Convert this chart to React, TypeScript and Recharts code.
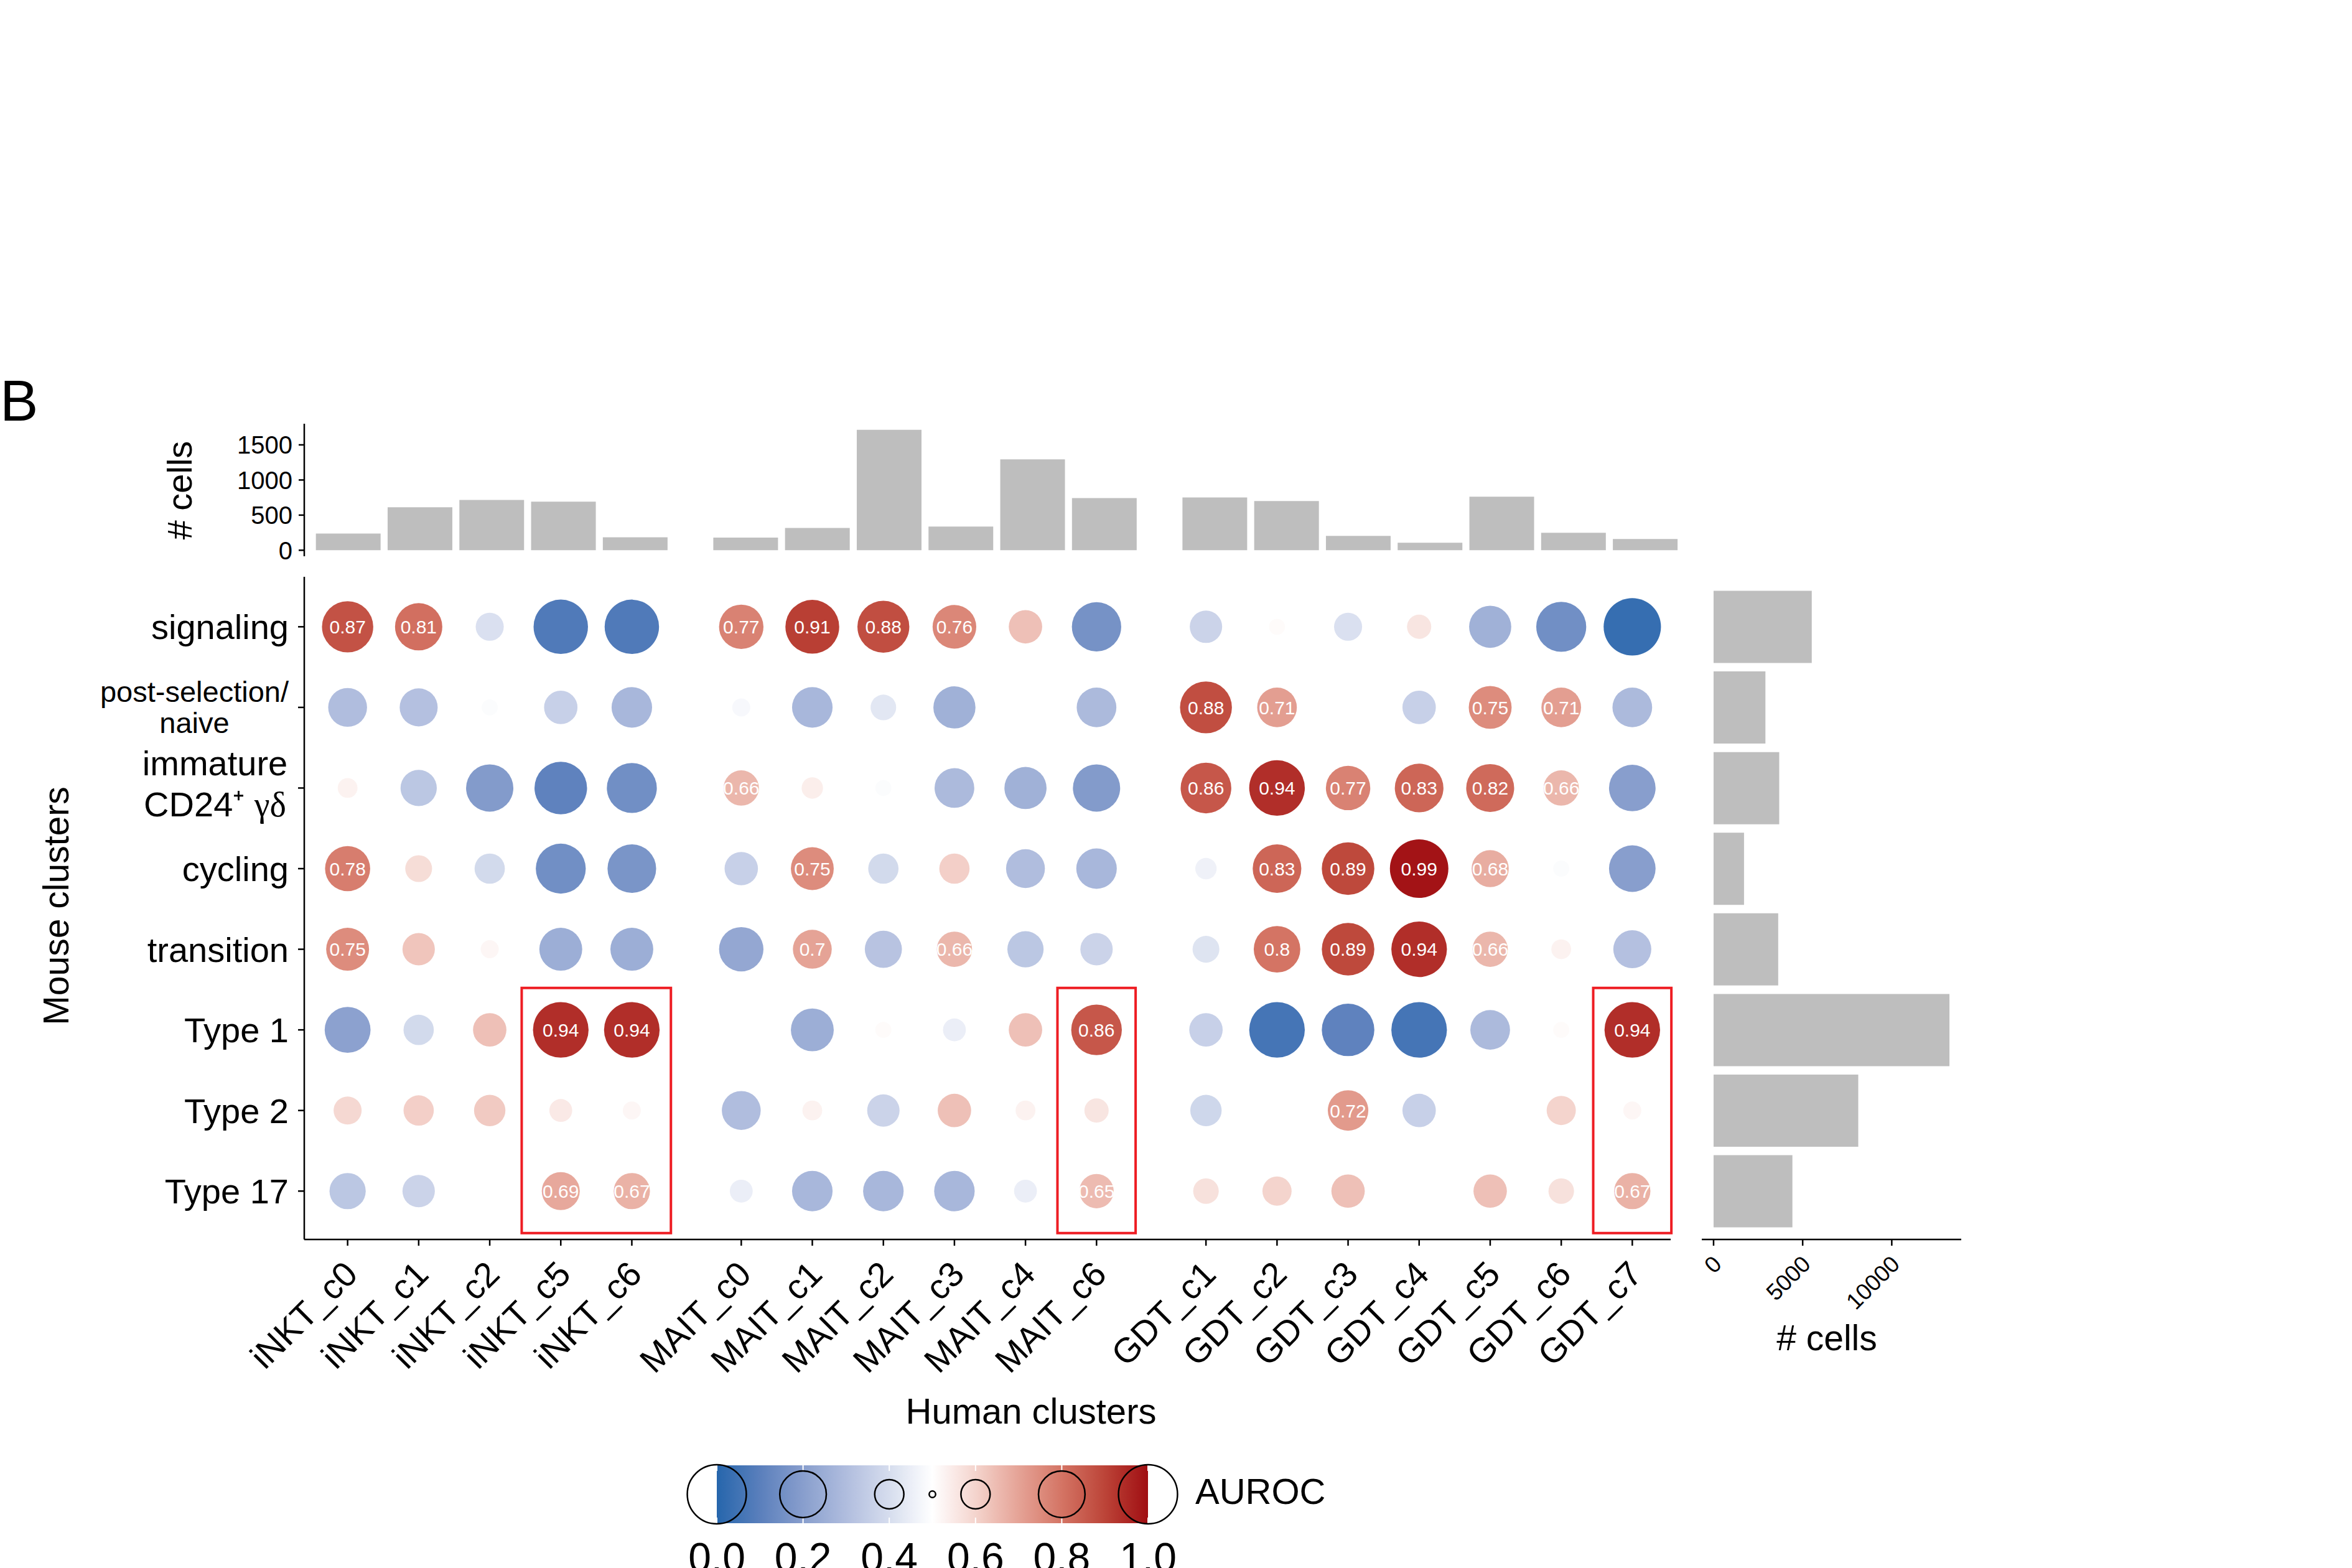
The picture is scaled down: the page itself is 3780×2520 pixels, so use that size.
import React from 'react';
import { BarChart, Bar, ScatterChart, Scatter, XAxis, YAxis, ZAxis, ReferenceArea } from 'recharts';

const FONT = "'Liberation Sans', Arial, Helvetica, sans-serif";

// columns: human clusters, grouped by cell type
const cellTypes = ['iNKT', 'MAIT', 'GDT'];
const humanClusters = [
  'iNKT_c0', 'iNKT_c1', 'iNKT_c2', 'iNKT_c5', 'iNKT_c6',
  'MAIT_c0', 'MAIT_c1', 'MAIT_c2', 'MAIT_c3', 'MAIT_c4', 'MAIT_c6',
  'GDT_c1', 'GDT_c2', 'GDT_c3', 'GDT_c4', 'GDT_c5', 'GDT_c6', 'GDT_c7',
];
const humanCells = [237, 612, 716, 692, 184, 180, 317, 1715, 337, 1293, 743, 751, 701, 204, 106, 763, 248, 160];
const humanCellTicks = [0, 500, 1000, 1500];

// rows: mouse clusters
const mouseClusters = ['signaling', 'post-selection/\nnaive', 'immature\nCD24⁺ γδ', 'cycling', 'transition', 'Type 1', 'Type 2', 'Type 17'];
const mouseCells = [5510, 2910, 3684, 1709, 3627, 13237, 8119, 4424];
const mouseCellTicks = [0, 5000, 10000];

// AUROC per mouse cluster, in humanClusters order
const aurocSignaling = [0.87, 0.81, 0.41, 0.08, 0.08, 0.77, 0.91, 0.88, 0.76, 0.64, 0.16, 0.37, 0.51, 0.41, 0.56, 0.26, 0.15, 0.03];
const aurocPostSel = [0.30, 0.31, 0.49, 0.36, 0.28, 0.48, 0.28, 0.43, 0.26, 0.50, 0.29, 0.88, 0.71, 0.50, 0.36, 0.75, 0.71, 0.29];
const aurocImmature = [0.53, 0.33, 0.19, 0.11, 0.15, 0.66, 0.54, 0.49, 0.29, 0.26, 0.19, 0.86, 0.94, 0.77, 0.83, 0.82, 0.66, 0.20];
const aurocCycling = [0.78, 0.58, 0.39, 0.15, 0.17, 0.36, 0.75, 0.39, 0.61, 0.30, 0.28, 0.46, 0.83, 0.89, 0.99, 0.68, 0.49, 0.20];
const aurocTransition = [0.75, 0.63, 0.52, 0.25, 0.25, 0.23, 0.70, 0.32, 0.66, 0.33, 0.37, 0.42, 0.80, 0.89, 0.94, 0.66, 0.53, 0.31];
const aurocType1 = [0.21, 0.39, 0.64, 0.94, 0.94, 0.50, 0.25, 0.51, 0.45, 0.64, 0.86, 0.36, 0.06, 0.11, 0.06, 0.29, 0.51, 0.94];
const aurocType2 = [0.59, 0.61, 0.62, 0.55, 0.52, 0.30, 0.53, 0.37, 0.64, 0.53, 0.56, 0.38, 0.50, 0.72, 0.36, 0.50, 0.60, 0.52];
const aurocType17 = [0.33, 0.37, 0.50, 0.69, 0.67, 0.45, 0.28, 0.28, 0.28, 0.45, 0.65, 0.57, 0.60, 0.64, 0.50, 0.64, 0.57, 0.67];
const aurocRows = [aurocSignaling, aurocPostSel, aurocImmature, aurocCycling, aurocTransition, aurocType1, aurocType2, aurocType17];

// highlighted blocks (red boxes)
const boxColumns = [['iNKT_c5', 'iNKT_c6'], ['MAIT_c6', 'MAIT_c6'], ['GDT_c7', 'GDT_c7']];
const boxRows = ['Type 1', 'Type 17'];

const legendTicks = [0, 0.2, 0.4, 0.6, 0.8, 1];
const legendCircles = [0, 0.2, 0.4, 0.5, 0.6, 0.8, 1];

// ---- scales / layout helpers ----
const GROUP_GAP = 0.54;
const colPos = humanClusters.map((c, i) => i + cellTypes.indexOf(c.split('_')[0]) * GROUP_GAP);
const X_DOMAIN = [-0.61, colPos[colPos.length - 1] + 0.54];
const Y_DOMAIN = [-0.62, mouseClusters.length - 0.4];

const topMax = Math.max(...humanCells);
const rightMax = Math.max(...mouseCells);

const colorStops: [number, number[]][] = [
  [0.0, [38, 102, 172]],
  [0.1, [90, 127, 188]],
  [0.2, [136, 158, 205]],
  [0.3, [176, 189, 222]],
  [0.4, [214, 221, 238]],
  [0.5, [255, 255, 255]],
  [0.6, [244, 212, 205]],
  [0.7, [229, 163, 150]],
  [0.8, [212, 116, 100]],
  [0.9, [188, 68, 56]],
  [1.0, [160, 14, 18]],
];

function aurocColor(v: number) {
  const t = Math.max(0, Math.min(1, v));
  for (let i = 1; i < colorStops.length; i++) {
    const [t1, c1] = colorStops[i];
    const [t0, c0] = colorStops[i - 1];
    if (t <= t1) {
      const f = (t - t0) / (t1 - t0);
      const c = c0.map((x, k) => Math.round(x + (c1[k] - x) * f));
      return `rgb(${c[0]},${c[1]},${c[2]})`;
    }
  }
  return 'rgb(160,14,18)';
}

// circle area = pi * (125 + 4250 * |auroc - 0.5|)
const SIZE_RANGE = [Math.PI * 125, Math.PI * (125 + 4250 * 0.5)];
const legendRadius = (v: number) => Math.sqrt(125 + 4250 * Math.abs(v - 0.5));

let ctx: CanvasRenderingContext2D | null = null;
function textWidth(s: string, size: number) {
  if (!ctx) ctx = document.createElement('canvas').getContext('2d');
  if (!ctx) return s.length * size * 0.5;
  ctx.font = `${size}px ${FONT}`;
  return ctx.measureText(s).width;
}

const dots = aurocRows.flatMap((row, r) =>
  row.map((v, c) => ({ x: colPos[c], y: r, v, dev: Math.abs(v - 0.5) }))
);
const topData = humanClusters.map((c, i) => ({ x: colPos[i], cells: humanCells[i] }));
const rightData = mouseClusters.map((m, i) => ({ row: m, cells: mouseCells[i] }));

const DotShape = (props: any) => {
  const { cx, cy, payload } = props;
  const r = props.width ? props.width / 2 : Math.sqrt((props.size || 0) / Math.PI);
  const v = payload.v;
  return (
    <g>
      <circle cx={cx} cy={cy} r={r} fill={aurocColor(v)} />
      {v >= 0.65 && (
        <text x={cx} y={cy} dy="0.36em" textAnchor="middle" fontSize={30} fill="#fff" fontFamily={FONT}>
          {String(v)}
        </text>
      )}
    </g>
  );
};

const HumanTick = (props: any) => {
  const { x, y, payload } = props;
  const i = colPos.findIndex((p) => Math.abs(p - payload.value) < 1e-6);
  return (
    <g transform={`translate(${x + 19},${y + 49})`}>
      <text textAnchor="end" transform="rotate(-45)" fontSize={56} fill="#000" fontFamily={FONT}>
        {humanClusters[i]}
      </text>
    </g>
  );
};

const RightTick = (props: any) => {
  const { x, y, payload } = props;
  return (
    <g transform={`translate(${x + 15},${y + 32})`}>
      <text textAnchor="end" transform="rotate(-45)" fontSize={37} fill="#000" fontFamily={FONT}>
        {payload.value}
      </text>
    </g>
  );
};

const renderLine = (line: string) => {
  const k = line.indexOf('γδ');
  if (k < 0) return line;
  return (
    <>
      {line.slice(0, k)}
      <tspan fontFamily="'Liberation Serif', 'DejaVu Serif', serif">γδ</tspan>
    </>
  );
};

const MouseTick = (props: any) => {
  const { x, y, payload } = props;
  const label = mouseClusters[Math.round(payload.value)] || '';
  const lines = label.split('\n');
  if (lines.length === 1) {
    return (
      <text x={x} y={y} dy={20} textAnchor="end" fontSize={56} fill="#000" fontFamily={FONT}>
        {label}
      </text>
    );
  }
  const small = label.startsWith('post');
  const size = small ? 47 : 56;
  const first = small ? -9 : -20;
  const spacing = small ? 50 : 66;
  const w = Math.max(...lines.map((l) => textWidth(l, size)));
  const cx = x - w / 2;
  return (
    <g>
      {lines.map((l, k) => (
        <text key={k} x={cx} y={y + first + k * spacing} textAnchor="middle" fontSize={size} fill="#000" fontFamily={FONT}>
          {renderLine(l)}
        </text>
      ))}
    </g>
  );
};

const axisStyle = { stroke: '#000', strokeWidth: 2.5 };

export default function App() {
  const legendX0 = 1152;
  const legendX1 = 1845;
  const legendY0 = 2355;
  const legendY1 = 2448;
  const lx = (v: number) => legendX0 + (legendX1 - legendX0) * v;
  const ly = (legendY0 + legendY1) / 2;

  return (
    <div style={{ position: 'relative', width: 3780, height: 2520, background: '#fff', overflow: 'hidden', fontFamily: FONT }}>
      <style>{'body{margin:0}'}</style>

      {/* top bar chart: # cells per human cluster */}
      <div style={{ position: 'absolute', left: 0, top: 600 }}>
        <BarChart width={2720} height={320} data={topData} margin={{ top: 81, right: 14, bottom: 26, left: 389 }}>
          <XAxis type="number" dataKey="x" domain={X_DOMAIN} ticks={colPos} allowDataOverflow hide />
          <YAxis
            type="number"
            domain={[-0.05 * topMax, 1.05 * topMax]}
            ticks={humanCellTicks}
            interval={0}
            width={100}
            tickSize={9}
            tickMargin={10}
            tick={{ fontSize: 40, fill: '#000', fontFamily: FONT }}
            axisLine={axisStyle}
            tickLine={axisStyle}
          />
          <Bar dataKey="cells" fill="#BEBEBE" barSize={104} isAnimationActive={false} />
        </BarChart>
      </div>

      {/* dot matrix */}
      <div style={{ position: 'absolute', left: 0, top: 900 }}>
        <ScatterChart width={2720} height={1400} margin={{ top: 27, right: 35, bottom: 8, left: 0 }}>
          <XAxis
            type="number"
            dataKey="x"
            domain={X_DOMAIN}
            ticks={colPos}
            interval={0}
            height={300}
            tickSize={10}
            tickMargin={0}
            tick={(p: any) => <HumanTick {...p} />}
            axisLine={axisStyle}
            tickLine={axisStyle}
          />
          <YAxis
            type="number"
            dataKey="y"
            domain={Y_DOMAIN}
            reversed
            ticks={mouseClusters.map((_, i) => i)}
            interval={0}
            width={489}
            tickSize={10}
            tickMargin={15}
            tick={(p: any) => <MouseTick {...p} />}
            axisLine={axisStyle}
            tickLine={axisStyle}
          />
          <ZAxis type="number" dataKey="dev" domain={[0, 0.5]} range={SIZE_RANGE} />
          <Scatter data={dots} shape={DotShape} isAnimationActive={false} />
          {boxColumns.map(([a, b], k) => (
            <ReferenceArea
              key={k}
              x1={colPos[humanClusters.indexOf(a)] - 0.55}
              x2={colPos[humanClusters.indexOf(b)] + 0.55}
              y1={mouseClusters.indexOf(boxRows[0]) - 0.52}
              y2={mouseClusters.indexOf(boxRows[1]) + 0.52}
              fill="none"
              fillOpacity={0}
              stroke="#EE1D23"
              strokeWidth={4}
              ifOverflow="visible"
            />
          ))}
        </ScatterChart>
      </div>

      {/* right bar chart: # cells per mouse cluster */}
      <div style={{ position: 'absolute', left: 2700, top: 900 }}>
        <BarChart layout="vertical" width={500} height={1300} data={rightData} margin={{ top: 27, right: 48, bottom: 58, left: 35 }}>
          <XAxis
            type="number"
            domain={[-0.05 * rightMax, 1.05 * rightMax]}
            ticks={mouseCellTicks}
            interval={0}
            height={150}
            tickSize={10}
            tickMargin={0}
            tick={(p: any) => <RightTick {...p} />}
            axisLine={axisStyle}
            tickLine={axisStyle}
          />
          <YAxis type="category" dataKey="row" hide padding={{ top: 15.5, bottom: 12.9 }} />
          <Bar dataKey="cells" fill="#BEBEBE" barSize={116} isAnimationActive={false} />
        </BarChart>
      </div>

      {/* titles and legend */}
      <svg width={3780} height={2520} style={{ position: 'absolute', left: 0, top: 0, pointerEvents: 'none' }}>
        <defs>
          <linearGradient id="aurocGrad" x1="0" x2="1" y1="0" y2="0">
            {Array.from({ length: 41 }, (_, i) => i / 40).map((t) => (
              <stop key={t} offset={t} stopColor={aurocColor(t)} />
            ))}
          </linearGradient>
        </defs>
        <text x={0} y={676} fontSize={92} fill="#000" fontFamily={FONT}>B</text>
        <text transform="translate(308,788) rotate(-90)" textAnchor="middle" fontSize={56} fill="#000" fontFamily={FONT}># cells</text>
        <text transform="translate(110,1456) rotate(-90)" textAnchor="middle" fontSize={57} fill="#000" fontFamily={FONT}>Mouse clusters</text>
        <text x={1657} y={2288} textAnchor="middle" fontSize={58} fill="#000" fontFamily={FONT}>Human clusters</text>
        <text x={2936} y={2170} textAnchor="middle" fontSize={57} fill="#000" fontFamily={FONT}># cells</text>

        <rect x={legendX0} y={legendY0} width={legendX1 - legendX0} height={legendY1 - legendY0} fill="url(#aurocGrad)" />
        {legendTicks.map((v) => (
          <g key={v}>
            <line x1={lx(v)} x2={lx(v)} y1={legendY0} y2={legendY0 + 9} stroke="#fff" strokeWidth={2} />
            <line x1={lx(v)} x2={lx(v)} y1={legendY1 - 9} y2={legendY1} stroke="#fff" strokeWidth={2} />
            <text x={lx(v)} y={2526} textAnchor="middle" fontSize={66} fill="#000" fontFamily={FONT}>
              {v.toFixed(1)}
            </text>
          </g>
        ))}
        {legendCircles.map((v) => (
          <circle key={v} cx={lx(v)} cy={ly} r={legendRadius(v) - (v === 0.5 ? 6 : 0)} fill="none" stroke="#000" strokeWidth={2.5} />
        ))}
        <text x={1921} y={2417} fontSize={58} fill="#000" fontFamily={FONT}>AUROC</text>
      </svg>
    </div>
  );
}
